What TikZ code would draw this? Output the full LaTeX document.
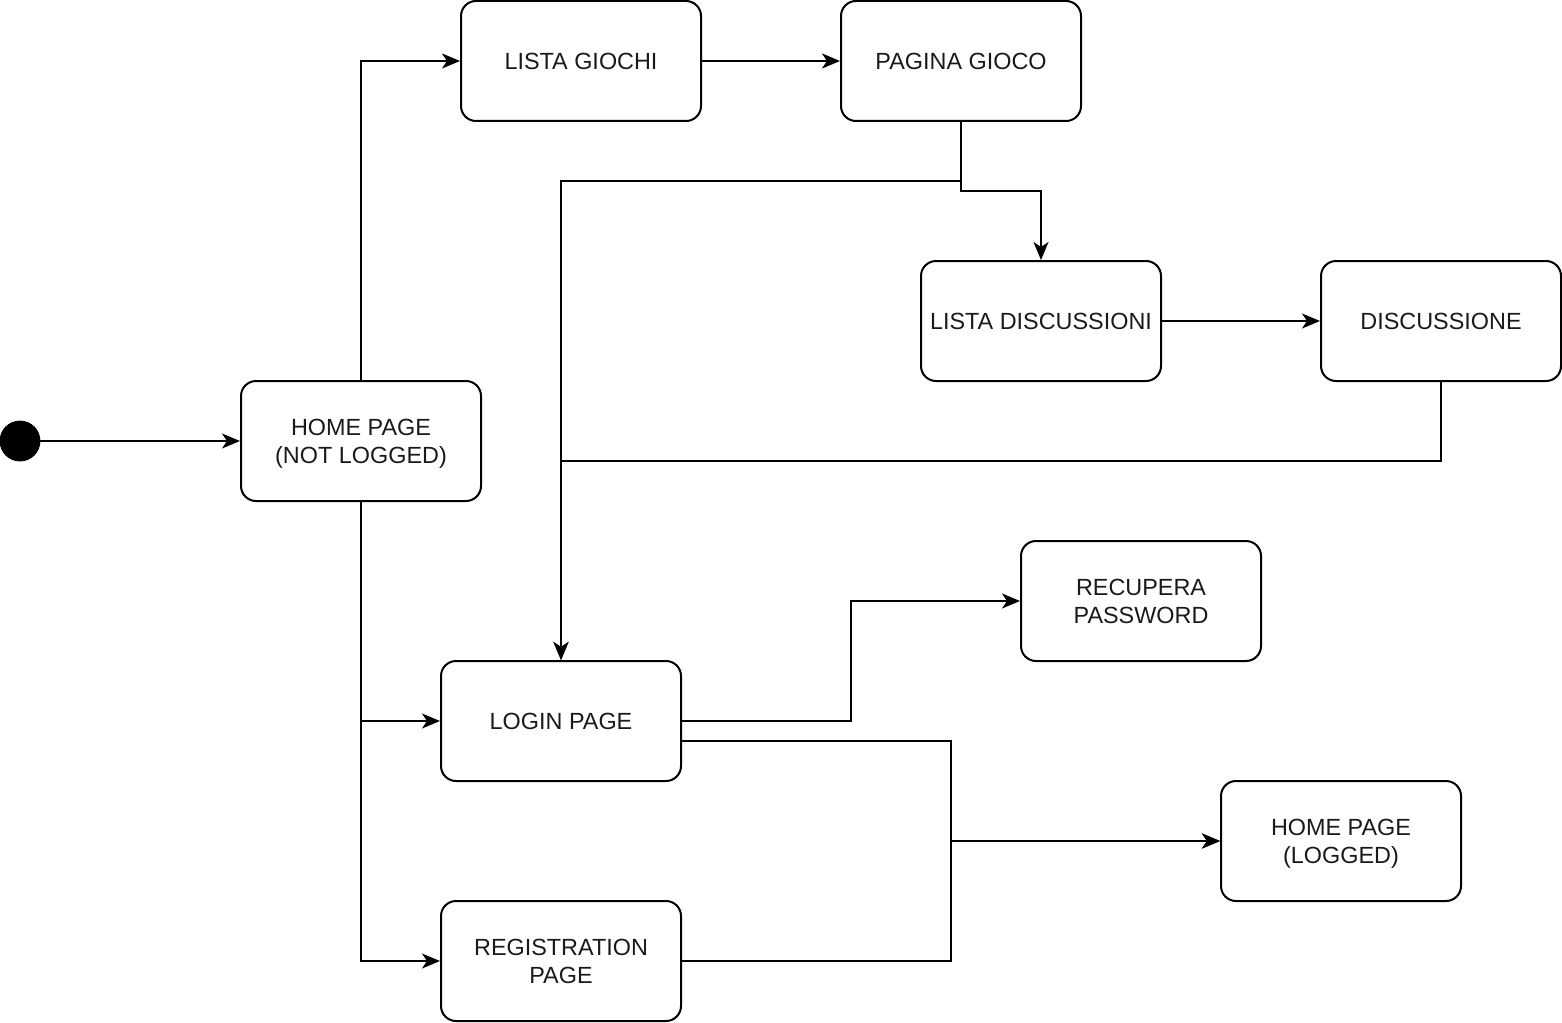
\documentclass[tikz,border=0pt]{standalone}
\usepackage{fontspec}
\setmainfont{Liberation Sans}
\usepackage{xcolor}
\usepackage{tikz}
\usetikzlibrary{positioning, arrows.meta, calc}
\definecolor{textgray}{RGB}{26,26,26}
\tikzset{
  page/.style={
    rectangle, draw=black, line width=1pt, rounded corners=7.5pt,
    minimum width=120pt, minimum height=60pt, inner sep=1pt,
    text depth=0pt, align=center, text=textgray,
    font=\fontsize{11.7}{14}\selectfont
  },
  startdot/.style={circle, fill=black, draw=black, minimum size=20pt, inner sep=0pt},
  flow/.style={draw, line width=1pt, -{Stealth[length=9pt, width=7.5pt, inset=2.5pt]}},
}

\begin{document}
\begin{tikzpicture}[x=0.5pt, y=-0.5pt]
  \useasboundingbox (0,0) rectangle (1562,1022);

  \node[startdot] (START) at (20,441) {};
  \node[page] (HOME) at (361,441) {HOME PAGE\\(NOT LOGGED)};
  \node[page] (GIOCHI) at (581,61) {LISTA GIOCHI};
  \node[page] (GIOCO) at (961,61) {PAGINA GIOCO};
  \node[page] (DISCLIST) at (1041,321) {LISTA DISCUSSIONI};
  \node[page] (DISC) at (1441,321) {DISCUSSIONE};
  \node[page] (RECUPERA) at (1141,601) {RECUPERA\\PASSWORD};
  \node[page] (LOGIN) at (561,721) {LOGIN PAGE};
  \node[page] (LOGGED) at (1341,841) {HOME PAGE\\(LOGGED)};
  \node[page] (REG) at (561,961) {REGISTRATION\\PAGE};

  % junction points of the routed lines
  \coordinate (splitgioco) at (961,191);
  \coordinate (backgioco) at (961,181);
  \coordinate (backdisc) at (1441,461);
  \coordinate (loginout) at ($(LOGIN.east)+(0,20)$);
  \coordinate (merge) at (951,841);

  \path[flow] (START) -- (HOME);
  \path[flow] (HOME.north) |- (GIOCHI.west);
  \path[flow] (GIOCHI) -- (GIOCO);
  \path[flow] (GIOCO.south) -- (splitgioco) -| (DISCLIST.north);
  \path[flow] (GIOCO.south) -- (backgioco) -| (LOGIN.north);
  \path[flow] (DISCLIST) -- (DISC);
  \path[flow] (DISC.south) -- (backdisc) -| (LOGIN.north);
  \path[flow] (HOME.south) |- (LOGIN.west);
  \path[flow] (HOME.south) |- (REG.west);
  \path[flow] (LOGIN.east) -| ($(LOGIN.east)!0.5!(RECUPERA.west)$) |- (RECUPERA.west);
  \path[flow] (loginout) -| (merge) -- (LOGGED.west);
  \path[flow] (REG.east) -| (merge) -- (LOGGED.west);
\end{tikzpicture}
\end{document}
